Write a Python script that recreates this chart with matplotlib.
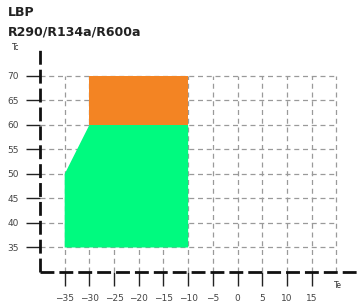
import matplotlib
matplotlib.use("Agg")
import matplotlib.pyplot as plt
from matplotlib.patches import Polygon

# Data
green_te = [-35, -35, -30, -10, -10]
green_tc = [35, 50, 60, 60, 35]
orange_te = [-30, -30, -10, -10]
orange_tc = [60, 70, 70, 60]
x_ticks = [-35, -30, -25, -20, -15, -10, -5, 0, 5, 10, 15]
y_ticks = [35, 40, 45, 50, 55, 60, 65, 70]
grid_x = [-35, -30, -25, -20, -15, -10, -5, 0, 5, 10, 15, 20]
title1 = "LBP"
title2 = "R290/R134a/R600a"

fig = plt.figure(figsize=(3.61, 3.03), dpi=100)
ax = fig.add_axes([40/361, 31/303, 321/361, 222/303])
ax.set_xlim(-40, 25)
ax.set_ylim(30, 75.3)

# grid
ax.hlines(y_ticks, -40, 20, colors="#9a9a9a", linestyles=(0, (4, 3)), linewidth=0.9, zorder=1)
ax.vlines(grid_x, 30, 70, colors="#9a9a9a", linestyles=(0, (4, 3)), linewidth=0.9, zorder=1)

ax.add_patch(Polygon(list(zip(green_te, green_tc)), closed=True, facecolor="#00FA7F", edgecolor="none", zorder=2))
ax.add_patch(Polygon(list(zip(orange_te, orange_tc)), closed=True, facecolor="#F38423", edgecolor="none", zorder=2))

for s in ["top", "right"]:
    ax.spines[s].set_visible(False)
for s in ["left", "bottom"]:
    ax.spines[s].set_linewidth(2.0)
    ax.spines[s].set_linestyle((0, (5, 1.8)))
    ax.spines[s].set_color("#111111")
    ax.spines[s].set_capstyle("butt")
    ax.spines[s].set_zorder(5)

ax.set_xticks(x_ticks)
ax.set_xticklabels([str(v).replace("-", "\u2212") for v in x_ticks])
ax.set_yticks(y_ticks)
ax.set_yticklabels([str(v) for v in y_ticks])
ax.tick_params(axis="both", direction="out", length=10, width=1.0, colors="#222222",
               labelsize=6.5, labelcolor="#444444")
ax.tick_params(axis="y", pad=5)
ax.tick_params(axis="x", pad=6)

fig.text(8/361, 1 - 12/303, title1, fontsize=9, fontweight="bold", ha="left", va="center", color="#222222")
fig.text(8/361, 1 - 32/303, title2, fontsize=9, fontweight="bold", ha="left", va="center", color="#222222")
fig.text(16/361, 1 - 47/303, "Tc", fontsize=5.5, ha="center", va="center", color="#333333")
fig.text(338/361, 1 - 286/303, "Te", fontsize=5.5, ha="center", va="center", color="#333333")

fig.savefig("out.png", dpi=100)
